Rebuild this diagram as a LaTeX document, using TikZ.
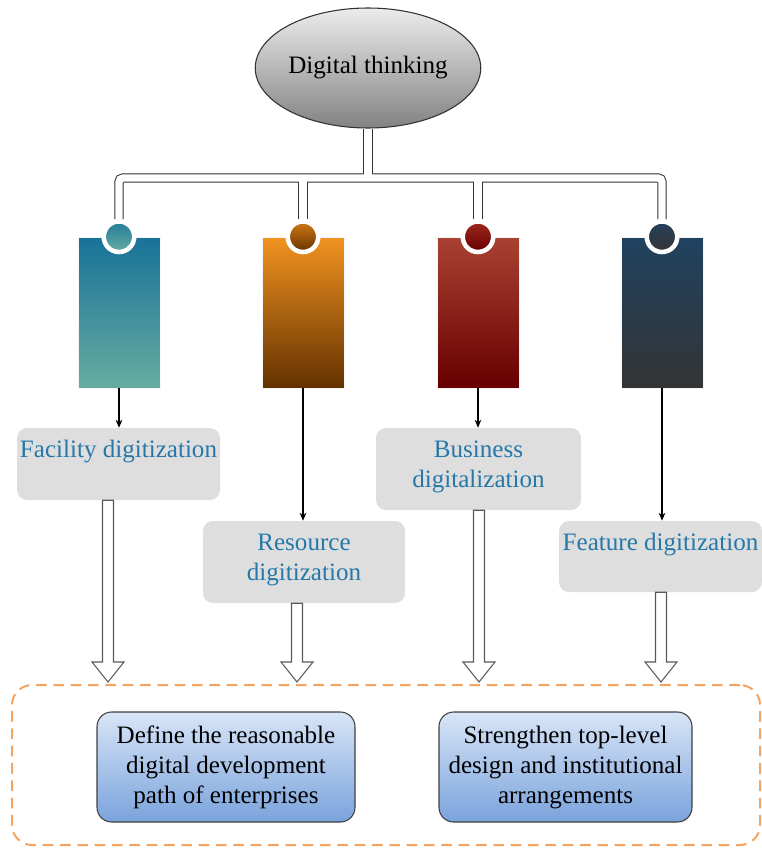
\documentclass[tikz,border=0pt]{standalone}
\usepackage{fontspec}
\setmainfont{Liberation Serif}
\usetikzlibrary{shapes.geometric,arrows.meta,calc,backgrounds}
\definecolor{lbl}{RGB}{38,120,168}
\definecolor{boxgray}{RGB}{222,222,222}
\definecolor{goaltop}{RGB}{216,229,247}
\definecolor{goalbot}{RGB}{122,163,220}
\definecolor{dashorange}{RGB}{244,164,96}
\definecolor{tealA}{RGB}{24,114,152}
\definecolor{tealB}{RGB}{102,172,160}
\definecolor{tealC}{RGB}{36,124,156}
\definecolor{orA}{RGB}{241,147,32}
\definecolor{orB}{RGB}{100,50,0}
\definecolor{orC}{RGB}{210,122,20}
\definecolor{redA}{RGB}{170,66,50}
\definecolor{redB}{RGB}{102,0,0}
\definecolor{redC}{RGB}{160,40,32}
\definecolor{dkA}{RGB}{32,66,96}
\definecolor{dkB}{RGB}{52,52,52}
\definecolor{dkC}{RGB}{38,64,90}
\definecolor{ellA}{RGB}{236,236,236}
\definecolor{ellB}{RGB}{130,130,130}
\newcommand\hollowarrow[2]{%
  \draw[blockarr] ($(#1)+(-5.5,0)$) -- ($(#2)+(-5.5,-20)$) -- ($(#2)+(-16,-20)$) -- (#2)
    -- ($(#2)+(16,-20)$) -- ($(#2)+(5.5,-20)$) -- ($(#1)+(5.5,0)$) -- cycle;}
\begin{document}
\begin{tikzpicture}[x=0.75pt,y=-0.75pt,
  font=\fontsize{18.8}{23}\selectfont,
  bar/.style={rectangle, minimum width=61.5pt, minimum height=113.25pt, inner sep=0, draw=white!92!gray, line width=0.4pt},
  knob/.style={circle, minimum size=22.9pt, inner sep=0, draw=white, line width=3.4pt},
  lblbox/.style={rectangle, rounded corners=7.5pt, fill=boxgray, inner sep=0},
  lbltext/.style={text=lbl, align=center, inner sep=0},
  goal/.style={rectangle, rounded corners=11pt, draw=black!75, line width=0.8pt, top color=goaltop, bottom color=goalbot, align=center, minimum height=82.5pt, inner sep=0, font=\fontsize{18.8}{22.5}\selectfont},
  pipeout/.style={line width=7pt, draw=black!80, rounded corners=3pt},
  pipein/.style={line width=5.5pt, draw=white, rounded corners=3pt},
  thinarr/.style={-{Stealth[length=6pt,width=5pt]}, line width=0.8pt},
  blockarr/.style={draw=black!65, fill=white, line width=0.8pt},
  dashbox/.style={rectangle, rounded corners=15pt, draw=dashorange, line width=1.5pt, dash pattern=on 8pt off 5pt, minimum width=561pt, minimum height=120pt, inner sep=0}
]
\useasboundingbox (0,0) rectangle (762,849);

% top ellipse
\node[ellipse, draw=black!80, line width=0.8pt, top color=ellA, bottom color=ellB, minimum width=159pt, minimum height=90pt, inner sep=0] (dt) at (368,68) {Digital thinking};

% bars
\node[bar, top color=tealA, bottom color=tealB] (r1) at (119,312.5) {};
\node[bar, top color=orA, bottom color=orB] (r2) at (303,312.5) {};
\node[bar, top color=redA, bottom color=redB] (r3) at (478,312.5) {};
\node[bar, top color=dkA, bottom color=dkB] (r4) at (662,312.5) {};

% knobs
\node[knob, top color=tealC, bottom color=tealB] (c1) at (r1.north) {};
\node[knob, top color=orC, bottom color=orB] (c2) at (r2.north) {};
\node[knob, top color=redC, bottom color=redB] (c3) at (r3.north) {};
\node[knob, top color=dkC, bottom color=dkB] (c4) at (r4.north) {};

% pipes
\coordinate (hub) at (368,178);
\begin{scope}[on background layer]
  \draw[pipeout] (dt.south) -- (hub);
  \draw[pipeout] (c1.north) |- (hub) -| (c4.north);
  \draw[pipeout] (c2.north) -- (c2.north |- hub);
  \draw[pipeout] (c3.north) -- (c3.north |- hub);
  \draw[pipein] (dt.south) -- (hub);
  \draw[pipein] (c1.north) |- (hub) -| (c4.north);
  \draw[pipein] (c2.north) -- (c2.north |- hub);
  \draw[pipein] (c3.north) -- (c3.north |- hub);
\end{scope}

% label boxes
\node[lblbox, minimum width=152.25pt, minimum height=54pt] (l1) at (118.5,464) {};
\node[lblbox, minimum width=151.5pt, minimum height=61.5pt] (l2) at (304,562) {};
\node[lblbox, minimum width=153.75pt, minimum height=61.5pt] (l3) at (478.5,469) {};
\node[lblbox, minimum width=152.25pt, minimum height=53.25pt] (l4) at (660.5,556.5) {};

\node[lbltext] (t1) at (118.5,452) {Facility digitization};
\node[lbltext] (t2) at (304,560) {Resource\\digitization};
\node[lbltext] (t3) at (478.5,467) {Business\\digitalization};
\node[lbltext] (t4) at (660.5,545) {Feature digitization};

% thin arrows
\draw[thinarr] (r1.south) -- (r1.south |- l1.north);
\draw[thinarr] (r2.south) -- (r2.south |- l2.north);
\draw[thinarr] (r3.south) -- (r3.south |- l3.north);
\draw[thinarr] (r4.south) -- (r4.south |- l4.north);

% dashed frame and goals
\node[dashbox] (dash) at (386,765) {};
\node[goal, minimum width=193.5pt] (g1) at (226,767) {Define the reasonable\\digital development\\path of enterprises};
\node[goal, minimum width=189.75pt] (g2) at (565.5,767) {Strengthen top-level\\design and institutional\\arrangements};

% hollow arrows
\coordinate (s1) at ($(l1.south)+(-10.5,0)$);
\coordinate (s2) at ($(l2.south)+(-7,0)$);
\coordinate (s3) at ($(l3.south)+(0.5,0)$);
\coordinate (s4) at ($(l4.south)+(0.5,0)$);
\coordinate (e1) at ($(s1 |- dash.north)+(0,-2)$);
\coordinate (e2) at ($(s2 |- dash.north)+(0,-2)$);
\coordinate (e3) at ($(s3 |- dash.north)+(0,-2)$);
\coordinate (e4) at ($(s4 |- dash.north)+(0,-2)$);
\hollowarrow{s1}{e1}
\hollowarrow{s2}{e2}
\hollowarrow{s3}{e3}
\hollowarrow{s4}{e4}
\end{tikzpicture}
\end{document}
